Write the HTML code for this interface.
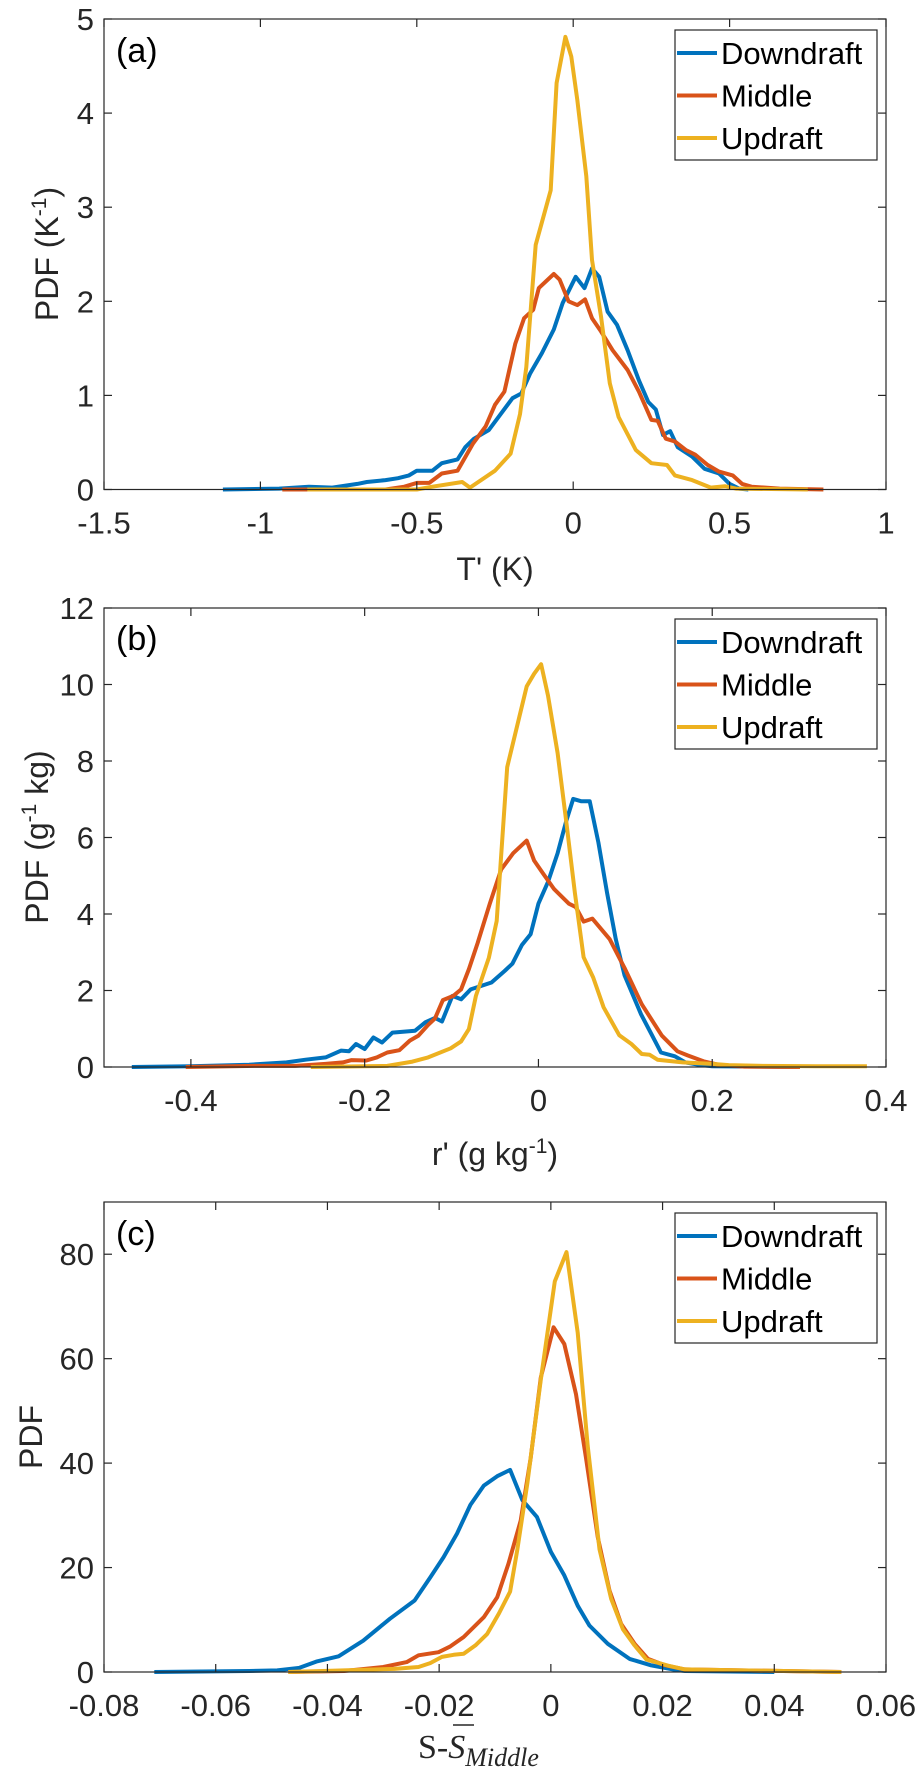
<!DOCTYPE html>
<html><head><meta charset="utf-8">
<style>
html,body{margin:0;padding:0;background:#fff;}
svg{display:block;font-family:"Liberation Sans",sans-serif;}
</style></head>
<body>
<svg id="fig" width="923" height="1772" viewBox="0 0 923 1772" xmlns="http://www.w3.org/2000/svg"></svg>
<script>
// ---------- Panel (a) data: T' (K) ----------
const aDownX=[-1.12,-0.94,-0.845,-0.77,-0.69,-0.66,-0.6,-0.56,-0.525,-0.5,-0.45,-0.42,-0.37,-0.345,-0.317,-0.27,-0.232,-0.194,-0.166,-0.138,-0.1,-0.062,-0.034,0.008,0.036,0.06,0.083,0.11,0.14,0.174,0.21,0.24,0.264,0.287,0.31,0.334,0.38,0.42,0.466,0.5,0.53,0.56];
const aDownY=[0,0.01,0.03,0.02,0.06,0.08,0.1,0.12,0.15,0.2,0.2,0.28,0.32,0.45,0.54,0.63,0.8,0.97,1.02,1.23,1.45,1.7,1.98,2.26,2.14,2.35,2.26,1.89,1.75,1.48,1.16,0.93,0.85,0.58,0.62,0.45,0.35,0.22,0.17,0.06,0.01,0];
const aMidX=[-0.93,-0.6,-0.54,-0.5,-0.46,-0.42,-0.37,-0.32,-0.28,-0.25,-0.22,-0.185,-0.157,-0.128,-0.11,-0.062,-0.043,-0.015,0.013,0.038,0.06,0.089,0.126,0.174,0.21,0.25,0.27,0.296,0.325,0.36,0.39,0.43,0.466,0.51,0.54,0.57,0.66,0.8];
const aMidY=[0,0,0.03,0.07,0.07,0.17,0.2,0.49,0.67,0.9,1.04,1.55,1.82,1.91,2.14,2.29,2.23,2.0,1.96,2.02,1.82,1.68,1.48,1.27,1.04,0.74,0.73,0.54,0.51,0.42,0.37,0.26,0.19,0.15,0.06,0.03,0.01,0];
const aUpX=[-0.85,-0.5,-0.45,-0.355,-0.33,-0.25,-0.2,-0.17,-0.15,-0.12,-0.072,-0.053,-0.025,-0.006,0.013,0.042,0.06,0.089,0.117,0.145,0.2,0.25,0.3,0.325,0.38,0.44,0.485,0.52,0.75];
const aUpY=[0,0,0.03,0.08,0.02,0.2,0.38,0.8,1.3,2.6,3.18,4.32,4.81,4.6,4.14,3.33,2.44,1.84,1.13,0.77,0.42,0.28,0.26,0.15,0.1,0.02,0.035,0.01,0];
const aXTicks=["-1.5","-1","-0.5","0","0.5","1"];
const aYTicks=["0","1","2","3","4","5"];

// ---------- Panel (b) data: r' (g/kg) ----------
const bDownX=[-0.468,-0.4,-0.333,-0.29,-0.268,-0.245,-0.227,-0.218,-0.21,-0.2,-0.19,-0.18,-0.168,-0.142,-0.13,-0.119,-0.111,-0.099,-0.089,-0.078,-0.054,-0.039,-0.03,-0.019,-0.009,0.0,0.011,0.022,0.032,0.04,0.049,0.059,0.069,0.079,0.089,0.099,0.118,0.13,0.141,0.157,0.169,0.184,0.2,0.3];
const bDownY=[0,0.02,0.06,0.12,0.19,0.25,0.43,0.41,0.6,0.47,0.77,0.64,0.9,0.95,1.17,1.28,1.19,1.86,1.77,2.03,2.21,2.51,2.7,3.19,3.47,4.27,4.84,5.59,6.43,7.01,6.95,6.95,5.87,4.55,3.34,2.4,1.38,0.86,0.38,0.28,0.12,0.06,0.02,0];
const bMidX=[-0.406,-0.327,-0.28,-0.245,-0.225,-0.215,-0.198,-0.186,-0.174,-0.16,-0.148,-0.138,-0.127,-0.119,-0.11,-0.098,-0.089,-0.08,-0.07,-0.056,-0.043,-0.029,-0.0135,-0.005,0.005,0.018,0.035,0.043,0.052,0.062,0.082,0.099,0.119,0.142,0.16,0.172,0.19,0.207,0.237,0.301];
const bMidY=[0,0.03,0.03,0.08,0.12,0.18,0.17,0.25,0.38,0.44,0.69,0.82,1.1,1.27,1.75,1.86,2.03,2.56,3.24,4.27,5.16,5.59,5.92,5.4,5.07,4.65,4.27,4.18,3.8,3.88,3.34,2.59,1.64,0.82,0.41,0.3,0.15,0.06,0.01,0];
const bUpX=[-0.262,-0.174,-0.145,-0.127,-0.101,-0.089,-0.08,-0.072,-0.057,-0.048,-0.036,-0.022,-0.0135,-0.005,0.003,0.011,0.022,0.032,0.042,0.052,0.063,0.075,0.093,0.107,0.119,0.128,0.137,0.166,0.2,0.219,0.26,0.32,0.378];
const bUpY=[0,0.03,0.14,0.25,0.49,0.67,0.99,1.86,2.86,3.82,7.84,9.15,9.95,10.28,10.53,9.71,8.21,6.43,4.55,2.87,2.34,1.56,0.83,0.6,0.34,0.32,0.19,0.12,0.08,0.05,0.03,0.02,0.02];
const bXTicks=["-0.4","-0.2","0","0.2","0.4"];
const bYTicks=["0","2","4","6","8","10","12"];

// ---------- Panel (c) data: S - S_Middle ----------
const cDownX=[-0.071,-0.054,-0.049,-0.045,-0.042,-0.038,-0.0336,-0.0288,-0.0244,-0.0216,-0.0192,-0.0168,-0.0144,-0.012,-0.0096,-0.0073,-0.0051,-0.0025,0,0.0024,0.0048,0.0069,0.0102,0.0141,0.018,0.0221,0.024,0.04];
const cDownY=[0,0.2,0.3,0.8,2.0,3.0,6.0,10.2,13.7,18.1,22,26.5,32,35.7,37.5,38.7,32.9,29.7,23,18.5,12.7,8.9,5.4,2.5,1.27,0.44,0.2,0];
const cMidX=[-0.047,-0.037,-0.03,-0.0258,-0.0237,-0.0201,-0.018,-0.0156,-0.012,-0.0096,-0.0076,-0.0054,-0.0036,-0.0018,0.0005,0.0024,0.0045,0.0063,0.0084,0.0105,0.0126,0.015,0.0174,0.0204,0.024,0.052];
const cMidY=[0,0.2,0.95,1.9,3.2,3.8,4.9,6.7,10.5,14.3,20.7,29,41,56.4,66,62.8,53.2,41,25.8,15.6,9.2,5.4,2.5,1.3,0.5,0];
const cUpX=[-0.047,-0.028,-0.0237,-0.0216,-0.0195,-0.0174,-0.0156,-0.0135,-0.0114,-0.0093,-0.0073,-0.006,-0.0042,-0.0018,0.0007,0.0028,0.0048,0.0066,0.0087,0.0108,0.0129,0.015,0.0171,0.021,0.024,0.052];
const cUpY=[0,0.6,0.95,1.7,2.9,3.3,3.5,5.1,7.3,11.2,15.4,23.4,36.2,56,74.8,80.4,65,43.3,23.5,14,8.2,5.1,2.4,1.2,0.5,0];
const cXTicks=["-0.08","-0.06","-0.04","-0.02","0","0.02","0.04","0.06"];
const cYTicks=["0","20","40","60","80"];

const seriesNames=["Downdraft","Middle","Updraft"];
const colors=["#0072BD","#D95319","#EDB120"];

const NS="http://www.w3.org/2000/svg";
const svg=document.getElementById('fig');
function mk(tag,attrs,parent){const e=document.createElementNS(NS,tag);for(const k in attrs)e.setAttribute(k,attrs[k]);(parent||svg).appendChild(e);return e;}

function panel(cfg){
  const g=mk('g',{});
  
  
  const L=104,R=886,T=cfg.top,B=cfg.bottom;
  const sx=v=>L+(v-cfg.xmin)/(cfg.xmax-cfg.xmin)*(R-L);
  const sy=v=>B-(v-cfg.ymin)/(cfg.ymax-cfg.ymin)*(B-T);
  cfg.series.forEach((s,i)=>{
    let d='';
    s.x.forEach((xv,j)=>{d+=(j?'L':'M')+sx(xv).toFixed(1)+','+sy(s.y[j]).toFixed(1);});
    const p=mk('path',{d:d,fill:'none',stroke:colors[i],'stroke-width':4,'stroke-linejoin':'round'},g);
    
    
  });
  const box=mk('rect',{x:L,y:T,width:R-L,height:B-T,fill:'none',stroke:'#262626','stroke-width':1.2},g);
  
  
  cfg.xTicks.forEach(t=>{
    const x=sx(parseFloat(t));
    mk('line',{x1:x,y1:B,x2:x,y2:B-8,stroke:'#262626','stroke-width':1.2},g);
    mk('line',{x1:x,y1:T,x2:x,y2:T+8,stroke:'#262626','stroke-width':1.2},g);
    const tx=mk('text',{x:x,y:B+44,'text-anchor':'middle','font-size':31,fill:'#262626'},g);
    tx.textContent=t;
    
    
  });
  cfg.yTicks.forEach(t=>{
    const y=sy(parseFloat(t));
    mk('line',{x1:L,y1:y,x2:L+8,y2:y,stroke:'#262626','stroke-width':1.2},g);
    mk('line',{x1:R,y1:y,x2:R-8,y2:y,stroke:'#262626','stroke-width':1.2},g);
    const tx=mk('text',{x:94,y:y+11,'text-anchor':'end','font-size':31,fill:'#262626'},g);
    tx.textContent=t;
    
    
  });
  const pl=mk('text',{x:116,y:cfg.letterY,'font-size':34,fill:'#000'},g);
  pl.textContent='('+cfg.key+')';
  
  
  const lg=mk('g',{},g);
  
  
  mk('rect',{x:675,y:cfg.legTop,width:202,height:130,fill:'#fff',stroke:'#262626','stroke-width':1.2},lg);
  seriesNames.forEach((n,i)=>{
    const yy=cfg.legTop+23+i*42.5;
    const e=mk('g',{},lg);
    
    
    mk('line',{x1:677,y1:yy,x2:717,y2:yy,stroke:colors[i],'stroke-width':4},e);
    const t=mk('text',{x:721,y:yy+11,'font-size':31,fill:'#000'},e);
    t.textContent=n;
  });
  return {sx,sy};
}

panel({key:'a',top:19,bottom:489.5,xmin:-1.5,xmax:1,ymin:0,ymax:5,xTicks:aXTicks,yTicks:aYTicks,letterY:62,legTop:30,
  series:[{x:aDownX,y:aDownY},{x:aMidX,y:aMidY},{x:aUpX,y:aUpY}]});
panel({key:'b',top:608,bottom:1067,xmin:-0.5,xmax:0.4,ymin:0,ymax:12,xTicks:bXTicks,yTicks:bYTicks,letterY:650,legTop:619,
  series:[{x:bDownX,y:bDownY},{x:bMidX,y:bMidY},{x:bUpX,y:bUpY}]});
panel({key:'c',top:1202,bottom:1672,xmin:-0.08,xmax:0.06,ymin:0,ymax:90,xTicks:cXTicks,yTicks:cYTicks,letterY:1245,legTop:1213,
  series:[{x:cDownX,y:cDownY},{x:cMidX,y:cMidY},{x:cUpX,y:cUpY}]});
</script>
<svg style="position:absolute;left:0;top:0" width="923" height="1772">
  <text x="495" y="580" text-anchor="middle" font-size="32" fill="#262626" font-family="Liberation Sans, sans-serif">T' (K)</text>
  <text transform="translate(58,254) rotate(-90)" text-anchor="middle" font-size="32" fill="#262626" font-family="Liberation Sans, sans-serif">PDF (K<tspan dy="-12" font-size="21">-1</tspan><tspan dy="12">)</tspan></text>
  <text x="495" y="1165" text-anchor="middle" font-size="32" fill="#262626" font-family="Liberation Sans, sans-serif">r' (g kg<tspan dy="-12" font-size="21">-1</tspan><tspan dy="12">)</tspan></text>
  <text transform="translate(48,837) rotate(-90)" text-anchor="middle" font-size="32" fill="#262626" font-family="Liberation Sans, sans-serif">PDF (g<tspan dy="-12" font-size="21">-1</tspan><tspan dy="12"> kg)</tspan></text>
  <text transform="translate(42,1437) rotate(-90)" text-anchor="middle" font-size="32" fill="#262626" font-family="Liberation Sans, sans-serif">PDF</text>
  <g>
    <text x="418" y="1758" font-size="34" fill="#262626" font-family="Liberation Serif, serif">S-<tspan font-style="italic">S</tspan><tspan font-style="italic" font-size="26" dy="8">Middle</tspan></text>
    <line x1="453" y1="1725" x2="474" y2="1725" stroke="#262626" stroke-width="1.5"/>
  </g>
</svg>
</body></html>
